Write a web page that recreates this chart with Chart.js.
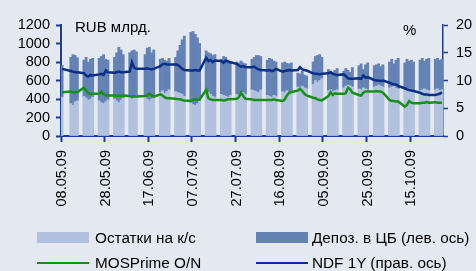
<!DOCTYPE html>
<html>
<head>
<meta charset="utf-8">
<script src="https://cdn.jsdelivr.net/npm/chart.js@4/dist/chart.umd.min.js"></script>
<style>
  body { margin: 0; background: #e4e8f1; }
  #wrap { position: relative; width: 476px; height: 271px; background: #e4e8f1; overflow: hidden; }
  .txt { position: absolute; font: 15.3px "Liberation Sans", Arial, sans-serif; color: #000; line-height: 16px; white-space: nowrap; }
  .box { position: absolute; width: 52px; height: 11px; }
  .ln { position: absolute; width: 52px; height: 2px; }
</style>
</head>
<body>
<div id="wrap">
  <canvas id="chart" width="476" height="271"></canvas>
  <div class="txt" style="left:75px;top:19px;font-size:15px;">RUB млрд.</div>
  <div class="txt" style="left:403px;top:22px;font-size:15px;">%</div>

  <div class="box" style="left:37px;top:232px;background:#b2c2de;"></div>
  <div class="txt" style="left:95px;top:230px;">Остатки на к/с</div>
  <div class="box" style="left:256px;top:232px;background:#6482b4;"></div>
  <div class="txt" style="left:312px;top:230px;">Депоз. в ЦБ (лев. ось)</div>

  <div class="ln" style="left:37px;top:262px;background:#169016;"></div>
  <div class="txt" style="left:95px;top:255px;">MOSPrime O/N</div>
  <div class="ln" style="left:256px;top:262px;background:#0b2f87;"></div>
  <div class="txt" style="left:312px;top:255px;">NDF 1Y (прав. ось)</div>
</div>

<script>
// calendar axis: every day from 08.05.09, weekends and holidays have no data
const startDate = new Date(2009, 4, 8);
const dayCount = 175;
const holidays = ['11.05.09', '12.06.09'];
const labelEvery = 20;

// values per trading day, one line per week
const accounts = [
  420,
  350, 330, 370, 380,
  430, 410, 390, 400, 420,
  380, 360, 350, 370, 390,
  400, 380, 360, 390, 410,
  420, 400, 410, 430,
  420, 400, 380, 400, 430,
  470, 490, 460, 480, 500,
  480, 470, 460, 450, 430,
  360, 340, 330, 350, 380,
  480, 470, 450, 430, 420,
  450, 440, 430, 420, 440,
  450, 440, 460, 470, 450,
  500, 490, 480, 470, 500,
  440, 430, 420, 440, 430,
  480, 470, 490, 480, 470,
  530, 520, 540, 520, 510,
  560, 600, 580, 600, 620,
  490, 500, 480, 490, 500,
  520, 540, 550, 540, 530,
  510, 500, 520, 510, 500,
  530, 540, 550, 540, 530,
  520, 530, 540, 520, 510,
  500, 490, 510, 500, 490,
  490, 500, 510, 500, 490,
  500, 510, 490, 500
];

const deposits = [
  345,
  500, 550, 500, 465,
  390, 440, 410, 430, 420,
  460, 500, 530, 460, 430,
  450, 520, 600, 540, 470,
  480, 520, 520, 480,
  460, 550, 580, 500, 500,
  360, 350, 360, 330, 340,
  370, 450, 520, 590, 650,
  760, 790, 770, 710, 620,
  440, 430, 440, 440, 460,
  380, 420, 420, 400, 360,
  350, 350, 350, 320, 330,
  330, 360, 390, 400, 360,
  380, 410, 410, 370, 370,
  310, 330, 295, 300, 320,
  150, 150, 160, 140, 140,
  240, 260, 290, 280, 230,
  230, 200, 210, 220, 230,
  180, 190, 160, 150, 210,
  250, 280, 200, 260, 290,
  230, 230, 230, 210, 240,
  280, 300, 240, 300, 330,
  290, 340, 300, 320, 310,
  330, 340, 300, 330, 350,
  330, 330, 330, 330
];

const mosprime = [
  7.9,
  8.0, 7.9, 7.9, 7.9,
  8.7, 8.2, 7.7, 7.6, 7.6,
  7.6, 8.0, 7.5, 7.3, 7.3,
  7.3, 7.2, 7.3, 7.2, 7.3,
  7.2, 7.1, 7.2, 7.1,
  7.2, 7.3, 7.6, 7.3, 7.1,
  7.5, 7.3, 7.0, 6.8, 6.8,
  6.7, 6.6, 6.6, 6.5, 6.4,
  6.3, 6.5, 6.6, 6.5, 6.6,
  8.3, 6.8, 6.6, 6.5, 6.5,
  6.5, 6.4, 6.5, 6.6, 6.6,
  6.7, 7.0, 7.8, 7.2, 6.7,
  6.6, 6.5, 6.5, 6.5, 6.5,
  6.5, 6.5, 6.5, 6.6, 6.5,
  6.3, 6.6, 7.3, 7.8, 7.9,
  8.2, 8.5, 8.1, 7.6, 7.3,
  6.9, 6.8, 6.6, 6.5, 6.4,
  7.2, 7.9, 7.4, 7.7, 7.6,
  7.6, 7.7, 8.7, 8.4, 7.8,
  7.4, 7.3, 7.8, 8.0, 8.0,
  8.0, 8.1, 8.0, 8.0, 7.8,
  6.5, 6.3, 6.3, 6.2, 6.2,
  5.3, 5.6, 6.3, 6.0, 5.9,
  5.9, 6.0, 6.0, 6.1, 6.0,
  6.1, 6.0, 6.0, 6.0
];

const ndf = [
  12.1,
  11.7, 11.6, 11.5, 11.5,
  11.3, 10.9, 10.7, 11.0, 10.9,
  11.1, 11.2, 11.0, 11.8, 11.5,
  11.4, 11.5, 11.6, 11.5, 11.5,
  11.6, 13.3, 12.3, 12.1,
  12.1, 12.2, 12.1, 12.0, 12.1,
  12.6, 12.9, 13.0, 12.9, 12.9,
  12.9, 12.8, 12.5, 12.1, 11.9,
  11.8, 11.8, 11.9, 11.8, 11.8,
  14.1, 13.5, 13.7, 13.3, 13.6,
  13.5, 13.2, 13.6, 13.4, 13.3,
  13.0, 12.7, 12.5, 12.6, 12.4,
  12.4, 12.5, 12.2, 12.0, 11.9,
  11.8, 11.9, 11.7, 11.8, 12.1,
  11.6, 11.7, 11.8, 11.9, 11.8,
  11.9, 12.4, 12.0, 11.9, 11.8,
  11.3, 11.2, 11.2, 11.1, 11.2,
  11.3, 11.5, 11.2, 11.1, 11.0,
  11.1, 10.8, 10.4, 10.3, 10.3,
  10.4, 10.3, 10.9, 10.5, 10.6,
  10.1, 10.0, 10.0, 9.9, 10.0,
  9.6, 9.4, 9.3, 9.3, 9.0,
  8.6, 8.4, 8.3, 8.2, 8.1,
  7.8, 7.6, 7.5, 7.5, 7.4,
  7.4, 7.5, 7.6, 7.9
];

const axisColor = '#1d3e8f';
const tickFont = { family: '"Liberation Sans", Arial, sans-serif', size: 14.5 };

function fmt(d) {
  const p = n => String(n).padStart(2, '0');
  return p(d.getDate()) + '.' + p(d.getMonth() + 1) + '.' + String(d.getFullYear()).slice(2);
}

// spread trading-day values over the calendar days
const labels = [];
const tradingIdx = [];
for (let i = 0; i < dayCount; i++) {
  const d = new Date(startDate.getFullYear(), startDate.getMonth(), startDate.getDate() + i);
  const lbl = fmt(d);
  labels.push(lbl);
  const wd = d.getDay();
  if (wd !== 0 && wd !== 6 && !holidays.includes(lbl)) tradingIdx.push(i);
}

function onCalendar(values) {
  const out = new Array(dayCount).fill(null);
  tradingIdx.forEach((idx, k) => { if (k < values.length) out[idx] = values[k]; });
  return out;
}

new Chart(document.getElementById('chart'), {
  data: {
    labels: labels,
    datasets: [
      {
        type: 'line', label: 'MOSPrime O/N', data: onCalendar(mosprime), yAxisID: 'y2',
        borderColor: '#169016', borderWidth: 2.5, pointRadius: 0, spanGaps: true, order: 0
      },
      {
        type: 'line', label: 'NDF 1Y (прав. ось)', data: onCalendar(ndf), yAxisID: 'y2',
        borderColor: '#0b2f87', borderWidth: 2.5, pointRadius: 0, spanGaps: true, order: 0
      },
      {
        type: 'bar', label: 'Остатки на к/с', data: onCalendar(accounts), yAxisID: 'y',
        backgroundColor: '#b2c2de', barPercentage: 1, categoryPercentage: 1, stack: 's', order: 1
      },
      {
        type: 'bar', label: 'Депоз. в ЦБ (лев. ось)', data: onCalendar(deposits), yAxisID: 'y',
        backgroundColor: '#6482b4', barPercentage: 1, categoryPercentage: 1, stack: 's', order: 2
      }
    ]
  },
  options: {
    responsive: false,
    animation: false,
    devicePixelRatio: 1,
    layout: { padding: { top: 25, left: 0, right: 0, bottom: 0 } },
    plugins: { legend: { display: false }, tooltip: { enabled: false } },
    scales: {
      x: {
        stacked: true,
        grid: {
          drawOnChartArea: false,
          tickLength: 6,
          tickWidth: 2,
          tickColor: ctx => (ctx.index % labelEvery === 0 ? axisColor : 'rgba(0,0,0,0)')
        },
        border: { color: axisColor, width: 2 },
        ticks: {
          autoSkip: false,
          maxRotation: 90,
          minRotation: 90,
          padding: 8,
          color: '#000',
          font: tickFont,
          callback: (v, i) => (i % labelEvery === 0 ? labels[i] : '')
        },
        afterFit: s => { s.height = 135; }
      },
      y: {
        position: 'left',
        stacked: true,
        min: 0, max: 1200,
        ticks: { stepSize: 200, autoSkip: false, padding: 6, color: '#000', font: tickFont, callback: v => String(v) },
        grid: { drawOnChartArea: false, tickLength: 5, tickWidth: 2, tickColor: axisColor },
        border: { color: axisColor, width: 2 },
        afterFit: s => { s.width = 61; }
      },
      y2: {
        position: 'right',
        min: 0, max: 20,
        ticks: { stepSize: 5, autoSkip: false, padding: 8, color: '#000', font: tickFont, callback: v => String(v) },
        grid: { drawOnChartArea: false, tickLength: 5, tickWidth: 1.5, tickColor: axisColor },
        border: { color: axisColor, width: 1.5 },
        afterFit: s => { s.width = 33; }
      }
    }
  }
});
</script>
</body>
</html>
